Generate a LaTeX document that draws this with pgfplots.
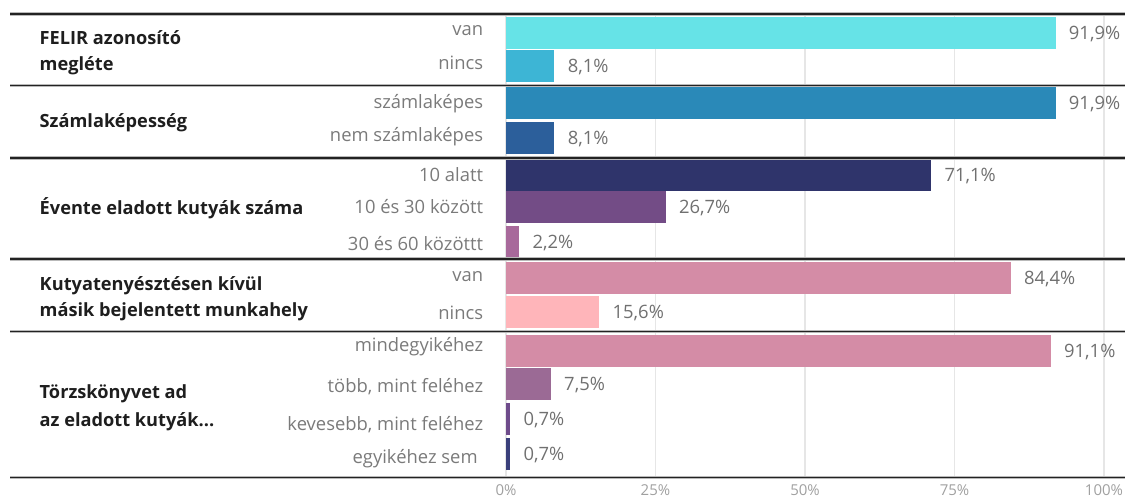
\documentclass[border=0pt]{standalone}
\usepackage{fontspec}
\setmainfont{Open Sans}
\usepackage{pgfplots}
\pgfplotsset{compat=1.18}

\definecolor{cA}{HTML}{66E3E7}
\definecolor{cB}{HTML}{3DB5D5}
\definecolor{cC}{HTML}{2A89B8}
\definecolor{cD}{HTML}{2C5F9B}
\definecolor{cE}{HTML}{2F346B}
\definecolor{cF}{HTML}{734C86}
\definecolor{cG}{HTML}{A8699B}
\definecolor{cH}{HTML}{D48CA6}
\definecolor{cI}{HTML}{FFB5BA}
\definecolor{cK}{HTML}{9B6A95}
\definecolor{cL}{HTML}{6E4B8B}
\definecolor{cM}{HTML}{3A3F7B}
\definecolor{labgray}{HTML}{7A7A7A}
\definecolor{valgray}{HTML}{707070}
\definecolor{tickgray}{HTML}{A0A0A0}
\definecolor{gridgray}{HTML}{E6E6E6}
\definecolor{titleblack}{HTML}{1E1E1E}
\definecolor{sepdark}{HTML}{222222}

\newcommand\labfont{\fontsize{9.2}{11}\selectfont}
\newcommand\titlefont{\fontsize{9.1}{11}\selectfont\bfseries}

\pgfplotsset{
  onebar/.style={
    xbar, bar shift=0pt, bar width=32, draw=none, fill=#1,
    point meta=x,
    nodes near coords={\pgfmathprintnumber[fixed,fixed zerofill,precision=1,use comma,assume math mode=true]{\pgfplotspointmeta}\%},
    nodes near coords style={anchor=west, inner sep=0pt, xshift=6.5pt,
      text depth=0pt, font=\labfont, text=valgray},
  },
}

\begin{document}
\begin{tikzpicture}
\useasboundingbox (0,0) rectangle (562.5pt,-248.5pt);
\begin{axis}[
  at={(253pt,-7pt)}, anchor=north west,
  scale only axis,
  width=299pt, height=231.75pt,
  xmin=0, xmax=100, ymin=14, ymax=477.5, y dir=reverse,
  axis line style={draw=none},
  major tick length=0pt,
  xtick={0,25,50,75,100},
  xticklabels={0\%,25\%,50\%,75\%,100\%},
  xticklabel style={font=\fontsize{7.5}{9}\selectfont, text=tickgray,
    inner sep=0pt, anchor=north, yshift=-3.5pt},
  ytick=\empty,
  xmajorgrids,
  grid style={color=gridgray, line width=0.6pt},
  clip=false,
]
% FELIR azonosító
\addplot[onebar=cA] coordinates {(91.9,32.5)};
\addplot[onebar=cB] coordinates {(8.1,66)};
% Számlaképesség
\addplot[onebar=cC] coordinates {(91.9,103)};
\addplot[onebar=cD] coordinates {(8.1,137.5)};
% Évente eladott kutyák száma
\addplot[onebar=cE] coordinates {(71.1,174.5)};
\addplot[onebar=cF] coordinates {(26.7,207)};
\addplot[onebar=cG] coordinates {(2.2,241.5)};
% Másik munkahely
\addplot[onebar=cH] coordinates {(84.4,278)};
\addplot[onebar=cI] coordinates {(15.6,311.5)};
% Törzskönyv
\addplot[onebar=cH] coordinates {(91.1,351)};
\addplot[onebar=cK] coordinates {(7.5,383.5)};
\addplot[onebar=cL] coordinates {(0.7,418.5)};
\addplot[onebar=cM] coordinates {(0.7,453.5)};

% category labels
\begin{scope}[every node/.style={anchor=base east, font=\labfont, text=labgray, inner sep=0pt}]
\node at (axis cs:-3.76,35.5) {van};
\node at (axis cs:-3.76,69) {nincs};
\node at (axis cs:-3.76,108.5) {számlaképes};
\node at (axis cs:-3.76,141.5) {nem számlaképes};
\node at (axis cs:-3.76,181.5) {10 alatt};
\node at (axis cs:-3.76,213.5) {10 és 30 között};
\node at (axis cs:-3.76,250) {30 és 60 közöttt};
\node at (axis cs:-3.76,281.5) {van};
\node at (axis cs:-3.76,319) {nincs};
\node at (axis cs:-3.76,351.5) {mindegyikéhez};
\node at (axis cs:-3.76,392.5) {több, mint feléhez};
\node at (axis cs:-3.76,430) {kevesebb, mint feléhez};
\node at (axis cs:-4.68,463) {egyikéhez sem};
\end{scope}

% group titles
\begin{scope}[every node/.style={anchor=base west, font=\titlefont, text=titleblack, inner sep=0pt}]
\node at (axis cs:-78.04,44.5) {FELIR azonosító};
\node at (axis cs:-78.04,70) {megléte};
\node at (axis cs:-78.04,127) {Számlaképesség};
\node at (axis cs:-78.04,214) {Évente eladott kutyák száma};
\node at (axis cs:-78.04,290) {Kutyatenyésztésen kívül};
\node at (axis cs:-78.04,316.5) {másik bejelentett munkahely};
\node at (axis cs:-78.04,398.5) {Törzskönyvet ad};
\node at (axis cs:-78.04,426) {az eladott kutyák...};
\end{scope}

% group separators
\pgfplotsinvokeforeach{14,85.5,158,259,331.5,477.5}{
  \draw[gray!55, line width=1.6pt] (axis cs:-82.94,#1) -- (axis cs:103.51,#1);
  \draw[sepdark, line width=0.9pt] (axis cs:-82.94,#1) -- (axis cs:103.51,#1);
}
\end{axis}
\end{tikzpicture}
\end{document}
